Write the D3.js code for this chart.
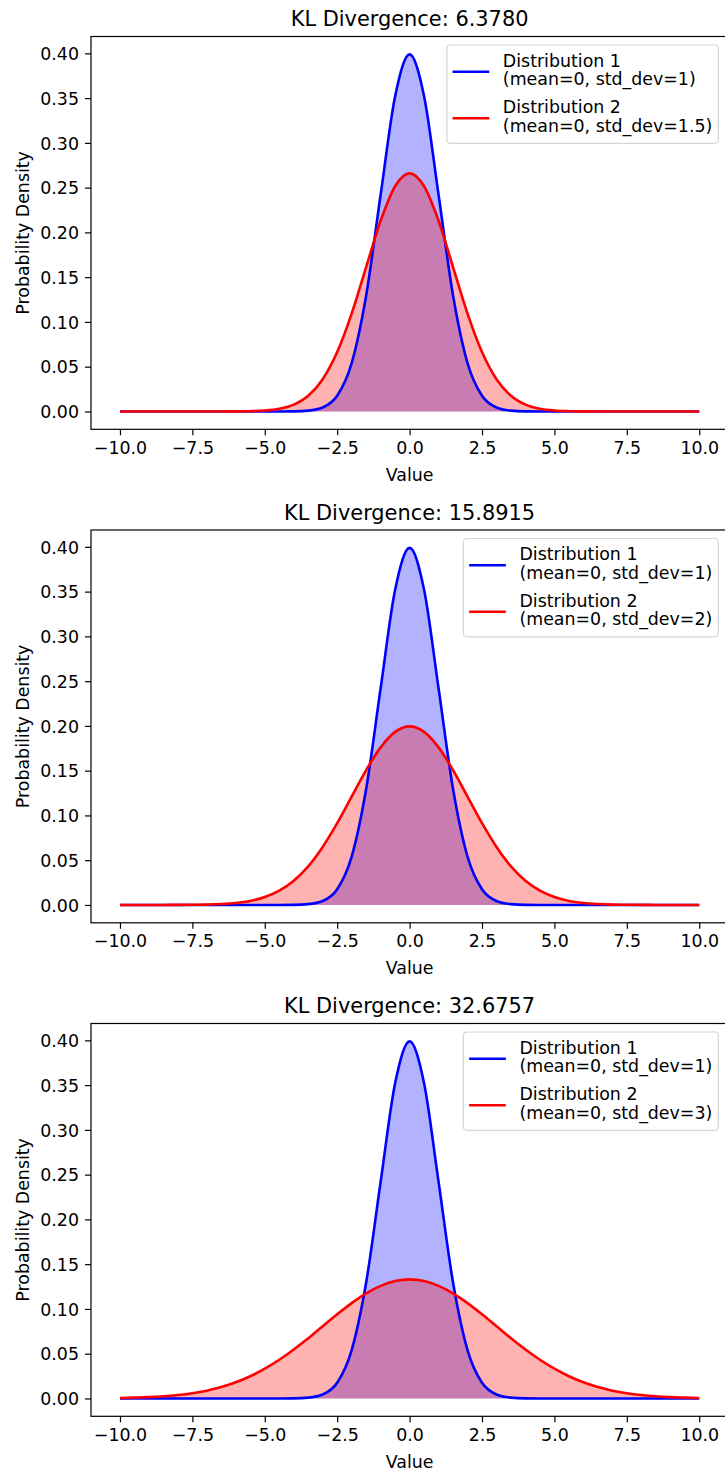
<!DOCTYPE html>
<html>
<head>
<meta charset="utf-8">
<script src="https://cdn.jsdelivr.net/npm/d3@7"></script>
<style>
  html, body { margin: 0; padding: 0; background: #fff; }
  svg { display: block; font-family: "DejaVu Sans", sans-serif; }
</style>
</head>
<body>
<svg id="chart" width="725" height="1472"></svg>
<script>
// ---- data ----
const xValues = [-10,-9.5,-9,-8.5,-8,-7.5,-7,-6.5,-6,-5.5,-5,-4.5,-4,-3.5,-3,-2.5,-2,-1.5,-1,-0.5,0,
                 0.5,1,1.5,2,2.5,3,3.5,4,4.5,5,5.5,6,6.5,7,7.5,8,8.5,9,9.5,10];

const dist1 = [0,0,0,0,0,0,0,0,0,0,0,0,0.0001,0.0009,0.0044,0.0175,0.0540,0.1295,0.2420,0.3521,0.3989,
               0.3521,0.2420,0.1295,0.0540,0.0175,0.0044,0.0009,0.0001,0,0,0,0,0,0,0,0,0,0,0,0];

const dist2_sd15 = [0,0,0,0,0,0,0,0,0.0001,0.0003,0.0010,0.0030,0.0076,0.0175,0.0360,0.0663,0.1093,0.1613,0.2130,0.2516,0.2660,
                    0.2516,0.2130,0.1613,0.1093,0.0663,0.0360,0.0175,0.0076,0.0030,0.0010,0.0003,0.0001,0,0,0,0,0,0,0,0];

const dist2_sd2 = [0,0,0,0,0.0001,0.0002,0.0004,0.0010,0.0022,0.0045,0.0088,0.0159,0.0270,0.0431,0.0648,0.0913,0.1210,0.1506,0.1760,0.1933,0.1995,
                   0.1933,0.1760,0.1506,0.1210,0.0913,0.0648,0.0431,0.0270,0.0159,0.0088,0.0045,0.0022,0.0010,0.0004,0.0002,0.0001,0,0,0,0];

const dist2_sd3 = [0.0005,0.0009,0.0015,0.0024,0.0038,0.0058,0.0087,0.0127,0.0180,0.0248,0.0332,0.0432,0.0547,0.0673,0.0807,0.0940,0.1065,0.1174,0.1258,0.1311,0.1330,
                   0.1311,0.1258,0.1174,0.1065,0.0940,0.0807,0.0673,0.0547,0.0432,0.0332,0.0248,0.0180,0.0127,0.0087,0.0058,0.0038,0.0024,0.0015,0.0009,0.0005];

const titles = ["KL Divergence: 6.3780", "KL Divergence: 15.8915", "KL Divergence: 32.6757"];
const seriesB = [dist2_sd15, dist2_sd2, dist2_sd3];
const label1 = ["Distribution 1", "(mean=0, std_dev=1)"];
const labels2 = [
  ["Distribution 2", "(mean=0, std_dev=1.5)"],
  ["Distribution 2", "(mean=0, std_dev=2)"],
  ["Distribution 2", "(mean=0, std_dev=3)"]
];
const xTicks = [-10, -7.5, -5, -2.5, 0, 2.5, 5, 7.5, 10];
const yTicks = [0, 0.05, 0.10, 0.15, 0.20, 0.25, 0.30, 0.35, 0.40];

// ---- layout ----
const svg = d3.select("#chart");
svg.append("rect").attr("width", 725).attr("height", 1472).attr("fill", "#fff");

const axLeft = 91, axRight = 728.2, axH = 392.8;
const axTops = [36.5, 530, 1023.5];
const fs = 17.4, titleFs = 20.9;
const lw = 2.6;
const fmtMinus = s => s.replace("-", "\u2212");

function panel(i) {
  const top = axTops[i], bottom = top + axH;
  const d2 = seriesB[i];
  const xmin = d3.min(xValues), xmax = d3.max(xValues);
  const xpad = (xmax - xmin) * 0.05;
  const ymax = Math.max(d3.max(dist1), d3.max(d2));
  const ypad = ymax * 0.05;
  const x = d3.scaleLinear().domain([xmin - xpad, xmax + xpad]).range([axLeft, axRight]);
  const y = d3.scaleLinear().domain([0 - ypad, ymax + ypad]).range([bottom, top]);

  const g = svg.append("g");
  const pts1 = xValues.map((v, k) => [v, dist1[k]]);
  const pts2 = xValues.map((v, k) => [v, d2[k]]);
  const curve = d3.curveMonotoneX;
  const area = d3.area().x(d => x(d[0])).y0(y(0)).y1(d => y(d[1])).curve(curve);
  const line = d3.line().x(d => x(d[0])).y(d => y(d[1])).curve(curve);

  g.append("path").attr("d", area(pts1)).attr("fill", "#0000ff").attr("fill-opacity", 0.3);
  g.append("path").attr("d", area(pts2)).attr("fill", "#ff0000").attr("fill-opacity", 0.3);
  g.append("path").attr("d", line(pts1)).attr("fill", "none").attr("stroke", "#0000ff").attr("stroke-width", lw);
  g.append("path").attr("d", line(pts2)).attr("fill", "none").attr("stroke", "#ff0000").attr("stroke-width", lw);

  // spines
  g.append("rect").attr("x", axLeft).attr("y", top).attr("width", axRight - axLeft).attr("height", axH)
    .attr("fill", "none").attr("stroke", "#000").attr("stroke-width", 1.2);

  // x axis
  const xAxis = d3.axisBottom(x).tickValues(xTicks).tickSize(6).tickPadding(5)
    .tickFormat(d => fmtMinus(d3.format(".1f")(d)));
  const xa = g.append("g").attr("transform", `translate(0,${bottom})`).call(xAxis);
  xa.select(".domain").remove();
  xa.selectAll(".tick line").attr("stroke", "#000").attr("stroke-width", 1.2);
  xa.selectAll(".tick text").attr("font-size", fs).attr("fill", "#000")
    .attr("font-family", "DejaVu Sans").attr("dy", "0.78em");

  // y axis
  const yAxis = d3.axisLeft(y).tickValues(yTicks).tickSize(6).tickPadding(6)
    .tickFormat(d3.format(".2f"));
  const ya = g.append("g").attr("transform", `translate(${axLeft},0)`).call(yAxis);
  ya.select(".domain").remove();
  ya.selectAll(".tick line").attr("stroke", "#000").attr("stroke-width", 1.2);
  ya.selectAll(".tick text").attr("font-size", fs).attr("fill", "#000")
    .attr("font-family", "DejaVu Sans").attr("dy", "0.36em");

  // labels
  g.append("text").attr("x", (axLeft + axRight) / 2).attr("y", bottom + 51.2)
    .attr("text-anchor", "middle").attr("font-size", fs).text("Value");
  g.append("text").attr("transform", `translate(28.6,${(top + bottom) / 2}) rotate(-90)`)
    .attr("text-anchor", "middle").attr("font-size", fs).text("Probability Density");
  g.append("text").attr("x", (axLeft + axRight) / 2).attr("y", top - 10.5)
    .attr("text-anchor", "middle").attr("font-size", titleFs).text(titles[i]);

  // legend
  const lg = g.append("g");
  const entries = [{c: "#0000ff", t: label1}, {c: "#ff0000", t: labels2[i]}];
  const legRight = 718.3, legTop = top + 8.5, legH = 98.3;
  const textNodes = [];
  entries.forEach((e, k) => {
    e.t.forEach((s, j) => {
      const t = lg.append("text").attr("y", legTop + 21.7 + k * 46.6 + j * 18.3)
        .attr("font-size", fs).text(s);
      textNodes.push(t);
    });
  });
  const tw = d3.max(textNodes, t => t.node().getComputedTextLength());
  const textX = legRight - 6.0 - tw;
  const handleX1 = textX - 13.6, handleX0 = handleX1 - 36.7;
  const legLeft = handleX0 - 5.7;
  lg.insert("rect", ":first-child").attr("x", legLeft).attr("y", legTop)
    .attr("width", legRight - legLeft).attr("height", legH).attr("rx", 3.5).attr("ry", 3.5)
    .attr("fill", "#fff").attr("fill-opacity", 0.8).attr("stroke", "#d5d5d5").attr("stroke-width", 1.2);
  textNodes.forEach(t => t.attr("x", textX));
  entries.forEach((e, k) => {
    lg.append("line").attr("x1", handleX0).attr("x2", handleX1)
      .attr("y1", legTop + 26.7 + k * 46.6).attr("y2", legTop + 26.7 + k * 46.6)
      .attr("stroke", e.c).attr("stroke-width", lw);
  });
}

[0, 1, 2].forEach(panel);
</script>
</body>
</html>
